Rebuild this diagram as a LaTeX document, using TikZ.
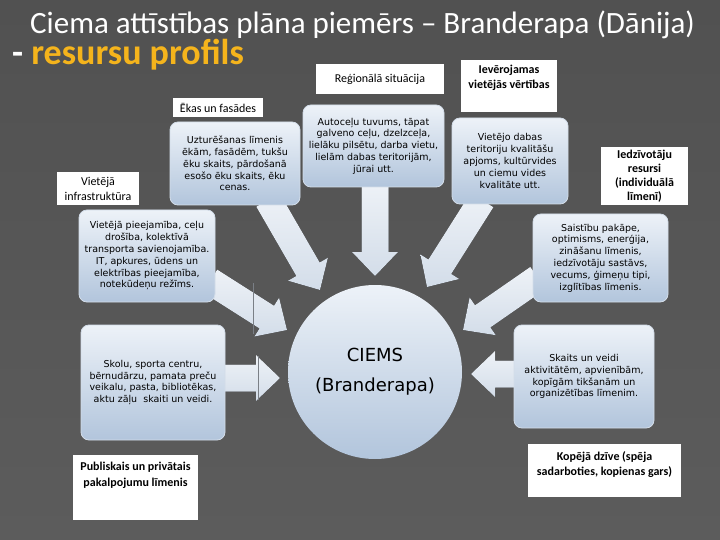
\documentclass[tikz,border=0pt]{standalone}
\usepackage{fontspec}
\setmainfont{Carlito}
\newfontfamily\boxfont{DejaVu Sans}
\usetikzlibrary{calc}
\definecolor{bgcol}{HTML}{5C5C5C}
\definecolor{bgtop}{HTML}{515151}
\definecolor{titleorange}{HTML}{F5B41C}
\definecolor{boxtop}{HTML}{EDF2F8}
\definecolor{boxbot}{HTML}{B2C5DC}
\definecolor{boxedge}{HTML}{D3DDE9}
\definecolor{arrtop}{HTML}{EEF2F7}
\definecolor{arrbot}{HTML}{D3DDE9}
\definecolor{seam}{HTML}{7A7F86}
\newcommand{\blockarr}[3]{%
  \coordinate (#3hb) at ($(#2)!24pt!(#1)$);
  \fill[arrowfill]
    ($(#1)!13.5pt!90:(#2)$) -- ($(#3hb)!13.5pt!-90:(#1)$) --
    ($(#3hb)!23pt!-90:(#1)$) -- (#2) --
    ($(#3hb)!23pt!90:(#1)$) -- ($(#3hb)!13.5pt!90:(#1)$) --
    ($(#1)!13.5pt!-90:(#2)$) -- cycle;
}
\begin{document}
\begin{tikzpicture}[x=1pt,y=-1pt,
  lbl/.style={fill=white, inner sep=0pt, align=center, text=black,
    font=\fontsize{12}{15}\selectfont},
  bbox/.style={rounded corners=8pt, top color=boxtop, bottom color=boxbot,
    draw=boxedge, line width=0.8pt, inner sep=0pt, align=center, text=black,
    font=\boxfont\fontsize{9.5}{11.8}\selectfont},
  arrowfill/.style={top color=arrtop, bottom color=arrbot},
  seamline/.style={draw=seam, line width=0.6pt}]
\useasboundingbox (0,0) rectangle (720,540);
\shade[top color=bgtop, bottom color=bgcol] (0,0) rectangle (720,540);

% title
\node[anchor=base west, inner sep=0pt, text=white,
  font=\fontsize{31}{36}\selectfont] (t1) at (30,34)
  {Ciema attīstības plāna piemērs – Branderapa (Dānija)};
\node[anchor=base west, inner sep=0pt, text=white,
  font=\bfseries\fontsize{36}{40}\selectfont] (t2) at (12,65)
  {- \textcolor{titleorange}{resursu profils}};

% arrow ends
\coordinate (a1s) at (268,200); \coordinate (a1t) at (320,290);
\coordinate (a2s) at (375,182); \coordinate (a2t) at (375,276);
\coordinate (a3s) at (482,200); \coordinate (a3t) at (427,287);
\coordinate (a4s) at (210,281); \coordinate (a4t) at (287,330);
\coordinate (a5s) at (538,278); \coordinate (a5t) at (463,330);
\coordinate (a6s) at (220,378); \coordinate (a6t) at (280,378);
\coordinate (a7s) at (518,374); \coordinate (a7t) at (471,374);
\blockarr{a1s}{a1t}{a1}
\blockarr{a2s}{a2t}{a2}
\blockarr{a3s}{a3t}{a3}
\blockarr{a4s}{a4t}{a4}
\blockarr{a5s}{a5t}{a5}
\blockarr{a6s}{a6t}{a6}
\blockarr{a7s}{a7t}{a7}
\coordinate (s1a) at (253,283); \coordinate (s1b) at (253,334);
\coordinate (s2a) at (258,356); \coordinate (s2b) at (258,400);
\draw[seamline] (s1a) -- (s1b);
\draw[seamline] (s2a) -- (s2b);

% blue boxes
\node[bbox, minimum width=130pt, minimum height=83pt] (b1) at (235,163.5)
  {Uzturēšanas līmenis\\ ēkām, fasādēm, tukšu\\ ēku skaits, pārdošanā\\ esošo ēku skaits, ēku\\ cenas.};
\node[bbox, minimum width=141pt, minimum height=82pt] (b2) at (373.5,146)
  {Autoceļu tuvums, tāpat\\ galveno ceļu, dzelzceļa,\\ lielāku pilsētu, darba vietu,\\ lielām dabas teritorijām,\\ jūrai utt.};
\node[bbox, minimum width=116pt, minimum height=86pt] (b3) at (510,161)
  {Vietējo dabas\\ teritoriju kvalitāšu\\ apjoms, kultūrvides\\ un ciemu vides\\ kvalitāte utt.};
\node[bbox, minimum width=136pt, minimum height=92pt] (b4) at (147,256)
  {Vietējā pieejamība, ceļu\\ drošība, kolektīvā\\ transporta savienojamība.\\ IT, apkures, ūdens un\\ elektrības pieejamība,\\ notekūdeņu režīms.};
\node[bbox, minimum width=135pt, minimum height=88pt] (b5) at (600.5,258)
  {Saistību pakāpe,\\ optimisms, enerģija,\\ zināšanu līmenis,\\ iedzīvotāju sastāvs,\\ vecums, ģimeņu tipi,\\ izglītības līmenis.};
\node[bbox, minimum width=144pt, minimum height=115pt] (b6) at (153,382.5)
  {Skolu, sporta centru,\\ bērnudārzu, pamata preču\\ veikalu, pasta, bibliotēkas,\\ aktu zāļu\ \ skaiti un veidi.};
\node[bbox, minimum width=140pt, minimum height=103pt] (b7) at (584,376.5)
  {Skaits un veidi\\ aktivitātēm, apvienībām,\\ kopīgām tikšanām un\\ organizētības līmenim.};

% centre circle
\node[circle, top color=boxtop, bottom color=boxbot, minimum size=174pt,
  inner sep=0pt, align=center, text=black,
  font=\boxfont\fontsize{18}{30}\selectfont] (ciems) at (375,372)
  {CIEMS\\ (Branderapa)};

% white labels
\node[lbl, minimum width=128pt, minimum height=30pt] (w1) at (380,79)
  {Reģionālā situācija};
\node[lbl, font=\bfseries\fontsize{12}{15}\selectfont] (w2) at (509,86)
  {\parbox[c][52pt][t]{96pt}{\centering\rule{0pt}{14pt}Ievērojamas\\ vietējās vērtības}};
\node[lbl, minimum width=90pt, minimum height=19pt] (w3) at (218,107.5)
  {Ēkas un fasādes};
\node[lbl, minimum width=82pt, minimum height=33pt, font=\fontsize{12}{15}\selectfont] (w4) at (98,188.5)
  {Vietējā\\ infrastruktūra};
\node[lbl, minimum width=87pt, minimum height=58pt, font=\bfseries\fontsize{12}{14}\selectfont] (w5) at (644.5,176)
  {Iedzīvotāju\\ resursi\\ (individuālā\\ līmenī)};
\node[lbl, font=\bfseries\fontsize{12}{16}\selectfont] (w6) at (135.5,487.5)
  {\parbox[c][65pt][t]{125pt}{\centering\rule{0pt}{15pt}Publiskais un privātais\\ pakalpojumu līmenis}};
\node[lbl, font=\bfseries\fontsize{12}{15}\selectfont] (w7) at (604.5,470.5)
  {\parbox[c][53pt][t]{153pt}{\centering\rule{0pt}{16pt}Kopējā dzīve (spēja\\ sadarboties, kopienas gars)}};
\end{tikzpicture}
\end{document}
